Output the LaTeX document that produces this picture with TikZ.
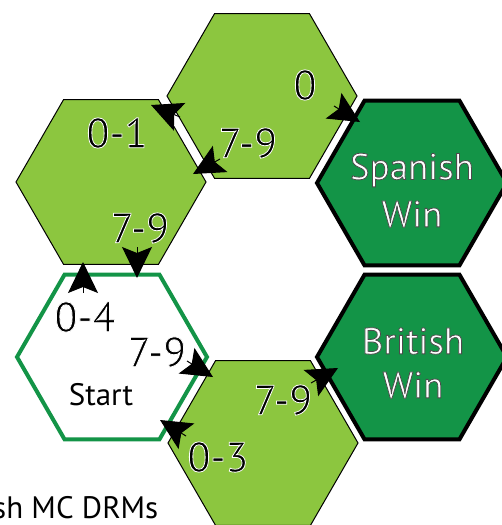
\documentclass[tikz,border=0pt]{standalone}
\usepackage{fontspec}
\setmainfont{PT Sans}
\usetikzlibrary{shapes.geometric,arrows.meta}

\definecolor{cellgreen}{HTML}{8CC63F}
\definecolor{wingreen}{HTML}{139447}

% text filled in #2 and stroked with a thin outline of grey level #1 (0 black, 1 white)
\newcommand\outlined[3]{{\color{#2}%
  \special{pdf:literal 2 Tr 0.8 w #1 #1 #1 RG}#3\special{pdf:literal 0 Tr}}}

\tikzset{
  hexcell/.style={regular polygon, regular polygon sides=6, minimum size=190pt,
    inner sep=0pt, draw=black, line width=1pt, fill=cellgreen},
  winhex/.style={hexcell, fill=wingreen, line width=4pt},
  starthex/.style={hexcell, fill=white, draw=wingreen, line width=4pt},
  roll/.style={inner sep=0pt, font=\fontsize{42}{42}\selectfont},
  wintext/.style={inner sep=0pt, font=\fontsize{37}{37}\selectfont},
  plain/.style={inner sep=0pt, font=\fontsize{31}{31}\selectfont},
  arr/.style={-{Stealth[length=31pt,width=30pt,inset=6pt]}, line width=1pt}
}

\begin{document}
\begin{tikzpicture}[x=1pt,y=-1pt]
\useasboundingbox (0,0) rectangle (502,525);

% board cells
\node[hexcell]   (top)     at (262,96)  {};
\node[hexcell]   (upper)   at (111,182) {};
\node[winhex]    (spanish) at (412,183) {};
\node[starthex]  (start)   at (112,357) {};
\node[hexcell]   (lower)   at (263,443) {};
\node[winhex]    (british) at (412,357) {};

% roll labels
\node[roll] (l0)    at (305,85)  {\outlined{1}{black}{0}};
\node[roll] (l79a)  at (248,143) {\outlined{1}{black}{7-9}};
\node[roll] (l01)   at (117,133) {\outlined{1}{black}{0-1}};
\node[roll] (l79b)  at (140,228) {\outlined{1}{black}{7-9}};
\node[roll] (l04)   at (85,317)  {\outlined{1}{black}{0-4}};
\node[roll] (l79c)  at (157,352) {\outlined{1}{black}{7-9}};
\node[roll] (l79d)  at (283,400) {\outlined{1}{black}{7-9}};
\node[roll] (l03)   at (218,457) {\outlined{1}{black}{0-3}};

% cell names, one node per line
\node[wintext] (tsp1) at (412,170) {\outlined{0.3}{white}{Spanish}};
\node[wintext] (tsp2) at (412,214) {\outlined{0.3}{white}{Win}};
\node[wintext] (tbr1) at (413,341) {\outlined{0.3}{white}{British}};
\node[wintext] (tbr2) at (413,385) {\outlined{0.3}{white}{Win}};
\node[plain]   (tst) at (101,395) {Start};
\node[plain, anchor=west] (cap) at (-7,508) {sh MC DRMs};

% move arrows between cells
\coordinate (a1t) at (180,117); \coordinate (a1h) at (151,105);
\coordinate (a2t) at (220,159); \coordinate (a2h) at (193,174);
\coordinate (a3t) at (334,106); \coordinate (a3h) at (360,122);
\coordinate (a4t) at (137,247); \coordinate (a4h) at (137,278);
\coordinate (a5t) at (83,293);  \coordinate (a5h) at (83,262);
\coordinate (a6t) at (187,361); \coordinate (a6h) at (213,377);
\coordinate (a7t) at (311,383); \coordinate (a7h) at (338,368);
\coordinate (a8t) at (186,436); \coordinate (a8h) at (160,420);
\foreach \i in {1,...,8} \draw[arr] (a\i t) -- (a\i h);
\end{tikzpicture}
\end{document}
